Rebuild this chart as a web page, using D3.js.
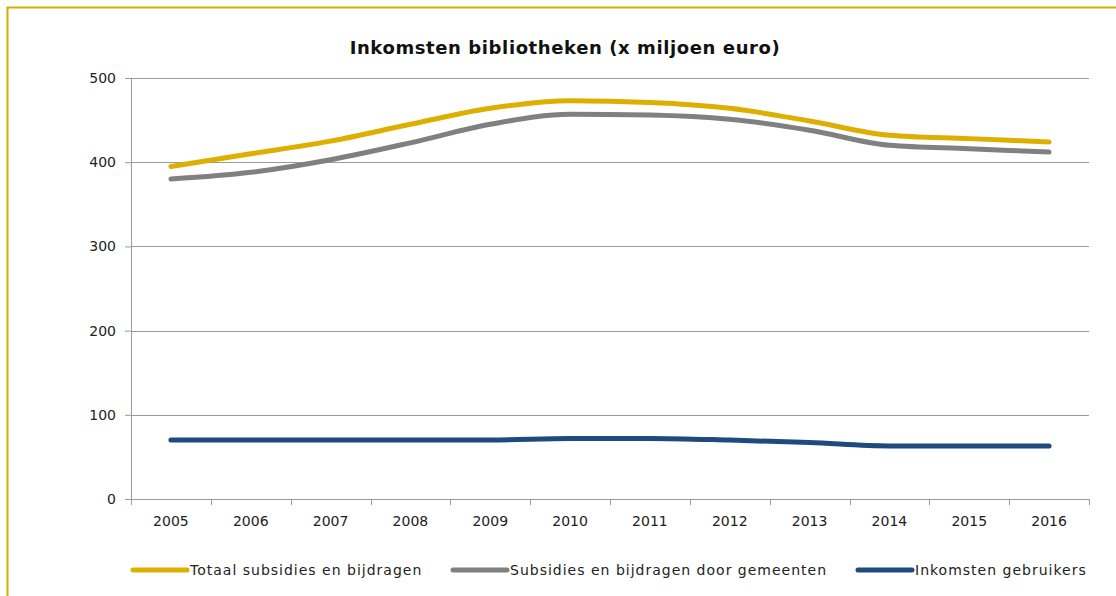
<!DOCTYPE html>
<html>
<head>
<meta charset="utf-8">
<script src="https://cdn.jsdelivr.net/npm/d3@7"></script>
<style>
  body { margin: 0; background: #fff; }
  text { font-family: "DejaVu Sans", Verdana, sans-serif; fill: #222; }
</style>
</head>
<body>
<div class="chart"></div>
<script>
// data
var years = ["2005", "2006", "2007", "2008", "2009", "2010", "2011", "2012", "2013", "2014", "2015", "2016"];
var totaal = [395, 410, 425, 445, 464, 473, 471, 464, 449, 432, 428, 424];
var gemeenten = [380, 388, 403, 423, 445, 457, 456, 451, 438, 420, 416, 412];
var gebruikers = [70, 70, 70, 70, 70, 72, 72, 70, 67, 63, 63, 63];
var yTicks = [0, 100, 200, 300, 400, 500];

var series = [
  {name: "Totaal subsidies en bijdragen", values: totaal, color: "#dcaf00"},
  {name: "Subsidies en bijdragen door gemeenten", values: gemeenten, color: "#808080"},
  {name: "Inkomsten gebruikers", values: gebruikers, color: "#1f4a7e"}
];

var W = 1116, H = 596;
var margin = {top: 78, left: 131, right: 27, bottom: 97};
var width = W - margin.left - margin.right,
    height = H - margin.top - margin.bottom;

var svg = d3.select(".chart").append("svg")
    .attr("width", W)
    .attr("height", H);

// outer border
svg.append("rect")
    .attr("x", 7.5).attr("y", 7.5)
    .attr("width", W + 10).attr("height", H + 10)
    .attr("fill", "none")
    .attr("stroke", "#d8ad00")
    .attr("stroke-width", 2);

svg.append("text")
    .attr("x", 565).attr("y", 54)
    .attr("text-anchor", "middle")
    .style("font-size", "18px")
    .style("letter-spacing", "0.6px")
    .style("font-weight", "bold")
    .style("fill", "#111")
    .text("Inkomsten bibliotheken (x miljoen euro)");

var g = svg.append("g")
    .attr("transform", "translate(" + margin.left + "," + margin.top + ")");

var x = d3.scaleBand().domain(years).range([0, width]);
var y = d3.scaleLinear().domain([0, 500]).range([height, 0]);

// gridlines
g.append("g").selectAll("line")
    .data(yTicks.filter(d => d > 0))
    .enter().append("line")
    .attr("x1", 0).attr("x2", width)
    .attr("y1", d => Math.round(y(d)) + 0.5)
    .attr("y2", d => Math.round(y(d)) + 0.5)
    .attr("stroke", "#9a9a9a");

// y axis
var yAxis = g.append("g")
    .call(d3.axisLeft(y).tickValues(yTicks).tickSize(6).tickPadding(9));
yAxis.selectAll("text").style("font-size", "14px").style("fill", "#222")
    .style("font-family", "'DejaVu Sans', Verdana, sans-serif");

// x axis with ticks at the band edges
var xAxis = g.append("g")
    .attr("transform", "translate(0," + height + ")")
    .call(d3.axisBottom(x).tickSize(0).tickPadding(17));
xAxis.selectAll("text").style("font-size", "14px").style("fill", "#222")
    .style("font-family", "'DejaVu Sans', Verdana, sans-serif");
xAxis.append("g").selectAll("line")
    .data(years.concat(["end"]))
    .enter().append("line")
    .attr("x1", (d, i) => Math.round(i * x.bandwidth()) + 0.5)
    .attr("x2", (d, i) => Math.round(i * x.bandwidth()) + 0.5)
    .attr("y1", 0).attr("y2", 6)
    .attr("stroke", "#9a9a9a");

svg.selectAll(".domain").attr("stroke", "#9a9a9a");
svg.selectAll(".tick line").attr("stroke", "#9a9a9a");

// lines
var line = d3.line()
    .x((d, i) => x(years[i]) + x.bandwidth() / 2)
    .y(d => y(d))
    .curve(d3.curveMonotoneX);

g.selectAll(".series")
    .data(series)
    .enter().append("path")
    .attr("class", "series")
    .attr("d", d => line(d.values))
    .attr("fill", "none")
    .attr("stroke", d => d.color)
    .attr("stroke-width", 5)
    .attr("stroke-linecap", "round")
    .attr("stroke-linejoin", "round");

// legend
var legendX = [133, 453, 858];
var legend = svg.append("g").selectAll("g")
    .data(series)
    .enter().append("g")
    .attr("transform", (d, i) => "translate(" + legendX[i] + ",570)");
legend.append("line")
    .attr("x1", 0).attr("x2", 54)
    .attr("y1", 0).attr("y2", 0)
    .attr("stroke", d => d.color)
    .attr("stroke-width", 5)
    .attr("stroke-linecap", "round");
legend.append("text")
    .attr("x", 57).attr("y", 5)
    .style("font-size", "14px")
    .style("letter-spacing", "1px")
    .text(d => d.name);
</script>
</body>
</html>
